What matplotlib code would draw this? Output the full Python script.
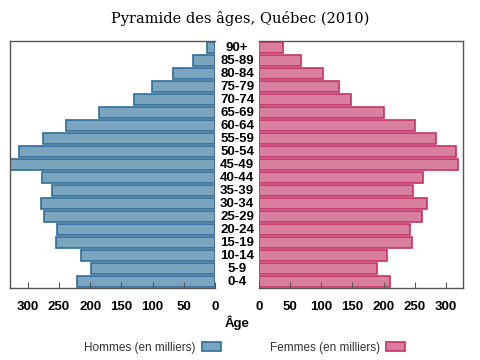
import matplotlib
matplotlib.use("Agg")
import matplotlib.pyplot as plt
from matplotlib.transforms import blended_transform_factory

plt.rcParams["font.family"] = ["Liberation Sans", "DejaVu Sans"]

# ---------------------------------------------------------------------------
# Data (thousands of people, Quebec 2010)
# ---------------------------------------------------------------------------
age_groups = ["0-4", "5-9", "10-14", "15-19", "20-24", "25-29", "30-34",
              "35-39", "40-44", "45-49", "50-54", "55-59", "60-64", "65-69",
              "70-74", "75-79", "80-84", "85-89", "90+"]
hommes = [221, 199, 215, 255, 253, 274, 279, 261, 277, 332, 314, 276, 238,
          186, 130, 101, 67, 35, 13]
femmes = [210, 189, 205, 245, 243, 261, 269, 247, 264, 319, 317, 285, 250,
          200, 147, 128, 102, 67, 38]
ticks = [0, 50, 100, 150, 200, 250, 300]

BLUE_FILL, BLUE_EDGE = "#7ba5bf", "#2f6d9a"
PINK_FILL, PINK_EDGE = "#d97f9e", "#c4336a"
FRAME = "#555555"
XMAX = 328

fig = plt.figure(figsize=(4.8, 3.6), dpi=100)
ax_l = fig.add_axes([0.021, 0.2, 0.427, 0.686])
ax_r = fig.add_axes([0.540, 0.2, 0.425, 0.686])

y = list(range(len(age_groups)))
ax_l.barh(y, hommes, height=0.84, color=BLUE_FILL, edgecolor=BLUE_EDGE, lw=1.2)
ax_r.barh(y, femmes, height=0.84, color=PINK_FILL, edgecolor=PINK_EDGE, lw=1.2)

ax_l.set_xlim(XMAX, 0)
ax_r.set_xlim(0, XMAX)

for ax in (ax_l, ax_r):
    ax.set_ylim(-0.5, len(age_groups) - 0.5)
    ax.set_yticks([])
    ax.set_xticks(ticks)
    ax.tick_params(axis="x", direction="in", length=4, color=FRAME,
                   labelsize=9.5, pad=9)
    for lbl in ax.get_xticklabels():
        lbl.set_fontweight("bold")
    for sp in ax.spines.values():
        sp.set_color(FRAME)
        sp.set_linewidth(1.0)
ax_l.spines["right"].set_visible(False)
ax_r.spines["left"].set_visible(False)

# age labels in the middle column
trans = blended_transform_factory(fig.transFigure, ax_l.transData)
for yi, lab in zip(y, age_groups):
    fig.text(0.494, yi, lab, transform=trans, ha="center", va="center",
             fontsize=9.5, fontweight="bold")

fig.text(0.494, 0.103, "Âge", ha="center", va="center", fontsize=9.5,
         fontweight="bold")
fig.text(0.5, 0.95, "Pyramide des âges, Québec (2010)", ha="center",
         va="center", fontsize=10.5, family="DejaVu Serif")

h1 = plt.Rectangle((0, 0), 1, 1, fc=BLUE_FILL, ec=BLUE_EDGE, lw=1.2)
h2 = plt.Rectangle((0, 0), 1, 1, fc=PINK_FILL, ec=PINK_EDGE, lw=1.2)
fig.legend([h1, h2], ["Hommes (en milliers)", "Femmes (en milliers)"],
           loc="center", bbox_to_anchor=(0.51, 0.034), ncol=2,
           markerfirst=False, frameon=False, fontsize=8.5,
           labelcolor="#333333",
           handlelength=1.6, handleheight=0.8, columnspacing=4.2,
           handletextpad=0.5)

fig.savefig("out.png", dpi=100)
